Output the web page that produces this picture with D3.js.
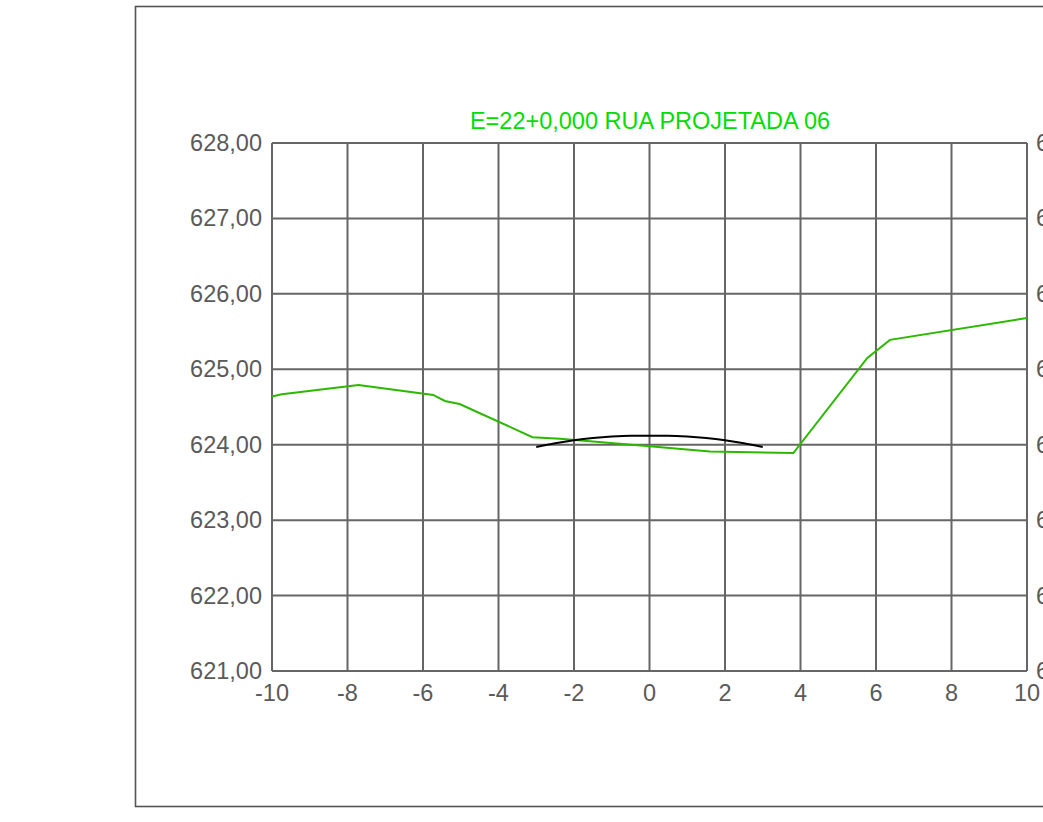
<!DOCTYPE html>
<html><head><meta charset="utf-8">
<script src="https://cdn.jsdelivr.net/npm/d3@7"></script>
<style>html,body{margin:0;padding:0;background:#fff;overflow:hidden}</style>
</head><body>
<script>
const titleText = "E=22+0,000 RUA PROJETADA 06";
const xTicks = [-10,-8,-6,-4,-2,0,2,4,6,8,10];
const yTicks = [621,622,623,624,625,626,627,628];
const terrainX = [-10,-9.74,-7.71,-5.73,-5.42,-5.03,-3.10,-2.37,0,1.6,3.81,5.77,6.37,10];
const terrainY = [624.64,624.67,624.79,624.66,624.58,624.54,624.10,624.08,623.98,623.91,623.89,625.15,625.39,625.68];
const roadX = [-3,-2.5,-2,-1.5,-1,-0.5,0,0.5,1,1.5,2,2.5,3];
const roadY = [623.97,624.02,624.06,624.09,624.11,624.12,624.12,624.12,624.11,624.09,624.06,624.02,623.97];

const W=1043,H=822;
const svg=d3.select("body").append("svg").attr("width",W).attr("height",H);
const x=d3.scaleLinear().domain([-10,10]).range([272,1027]);
const y=d3.scaleLinear().domain([621,628]).range([671,143]);
const grey="#666";
const font="Liberation Sans, Arial, sans-serif";
const fs=23.5;

svg.append("rect").attr("x",135.5).attr("y",6.5).attr("width",1100).attr("height",800)
  .attr("fill","none").attr("stroke","#555").attr("stroke-width",1.6);

const g=svg.append("g");
g.selectAll("line.v").data(xTicks).join("line")
  .attr("x1",d=>x(d)).attr("x2",d=>x(d)).attr("y1",y(628)).attr("y2",y(621))
  .attr("stroke",grey).attr("stroke-width",2);
g.selectAll("line.h").data(yTicks).join("line").attr("class","h")
  .attr("x1",x(-10)).attr("x2",x(10)).attr("y1",d=>y(d)).attr("y2",d=>y(d))
  .attr("stroke",grey).attr("stroke-width",2);

const fmt=d=>d3.format(".2f")(d).replace(".",",");
svg.selectAll("text.yl").data(yTicks).join("text")
  .attr("x",262).attr("y",d=>y(d)+8).attr("text-anchor","end")
  .attr("font-family",font).attr("font-size",fs).attr("fill","#5a5a5a").text(fmt);
svg.selectAll("text.yr").data(yTicks).join("text")
  .attr("x",1036).attr("y",d=>y(d)+8).attr("text-anchor","start")
  .attr("font-family",font).attr("font-size",fs).attr("fill","#5a5a5a").text(fmt);
svg.selectAll("text.xl").data(xTicks).join("text")
  .attr("x",d=>x(d)).attr("y",701).attr("text-anchor","middle")
  .attr("font-family",font).attr("font-size",fs).attr("fill","#5a5a5a").text(d=>d);

svg.append("text").attr("x",650).attr("y",129).attr("text-anchor","middle")
  .attr("font-family",font).attr("font-size",fs).attr("fill","#00dd00").text(titleText);

const line=d3.line().x(d=>x(d[0])).y(d=>y(d[1]));
svg.append("path").datum(terrainX.map((v,i)=>[v,terrainY[i]]))
  .attr("d",line).attr("fill","none").attr("stroke","#2db800").attr("stroke-width",2);
svg.append("path").datum(roadX.map((v,i)=>[v,roadY[i]]))
  .attr("d",line.curve(d3.curveMonotoneX)).attr("fill","none").attr("stroke","#000").attr("stroke-width",2);
</script>
</body></html>
